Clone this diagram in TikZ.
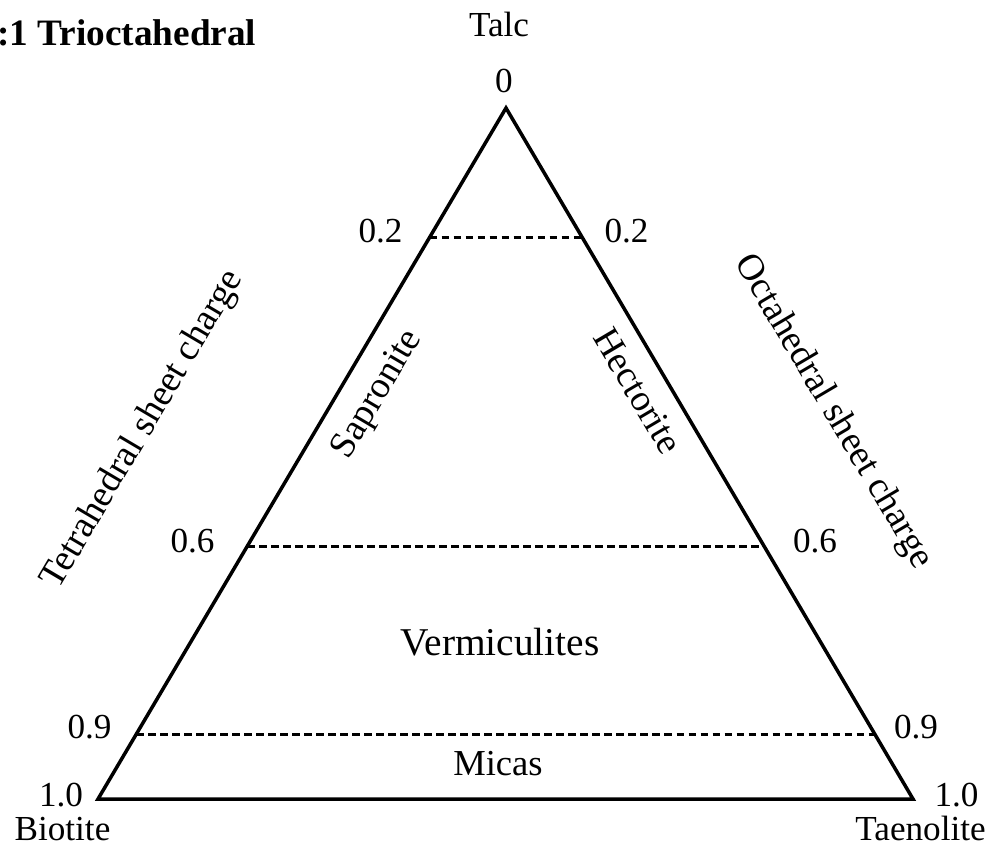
\documentclass[tikz,border=0pt]{standalone}
\usepackage{fontspec}
\setmainfont{Liberation Serif}
\usetikzlibrary{%
  calc,%
  positioning% wg. " of "
}

\begin{document}
\begin{tikzpicture}
  [
  x=0.025cm, y=-0.025cm, line width=2.5pt, draw=black,
  lbl/.style={anchor=base, inner sep=0pt, font=\fontsize{25}{30}\selectfont},
  side/.style={inner sep=0pt, font=\fontsize{26.5}{30}\selectfont},
  level/.style={dashed, line width=2.2pt, dash pattern=on 0.19cm off 0.11cm}
  ]
\useasboundingbox (0,0) rectangle (992,849);

\coordinate (talc) at (506,108);
\coordinate (bio) at (98,799);
\coordinate (tae) at (913,799);

\draw[line join=miter] (talc) -- (bio) -- (tae) -- cycle;

\foreach \n/\f in {2/0.187,6/0.634,9/0.906} {
  \coordinate (l\n) at ($(talc)!\f!(bio)$);
  \coordinate (r\n) at ($(talc)!\f!(tae)$);
  \draw[level] (l\n) -- (r\n);
}

\node[anchor=base east, inner sep=0pt, font=\fontsize{26.5}{30}\selectfont\bfseries] (title) at (258,45) {:1 Trioctahedral};

\node[lbl] (ntalc) at (499,36) {Talc};
\node[lbl] (z0) at (504,92) {0};
\node[lbl] (ll2) at (380.5,242) {0.2};
\node[lbl] (rl2) at (626.5,242) {0.2};
\node[lbl] (ll6) at (192.5,552) {0.6};
\node[lbl] (rl6) at (815,552) {0.6};
\node[lbl] (ll9) at (89.5,738) {0.9};
\node[lbl] (rl9) at (916,738) {0.9};
\node[lbl] (ll10) at (61,806) {1.0};
\node[lbl] (rl10) at (956.5,806) {1.0};
\node[lbl] (nbio) at (62.5,840) {Biotite};
\node[lbl] (ntae) at (920.5,840) {Taenolite};

\node[lbl, font=\fontsize{28}{32}\selectfont] (verm) at (500,655) {Vermiculites};
\node[lbl, font=\fontsize{26}{30}\selectfont] (mica) at (498,775) {Micas};

\node[side, rotate=59.4] (sap) at (378,395) {Sapronite};
\node[side, rotate=-59.4] (hec) at (638,391) {Hectorite};
\node[side, rotate=59.4] (tet) at (143,430) {Tetrahedral sheet charge};
\node[side, rotate=-59.4] (oct) at (833,412) {Octahedral sheet charge};
\end{tikzpicture}
\end{document}
